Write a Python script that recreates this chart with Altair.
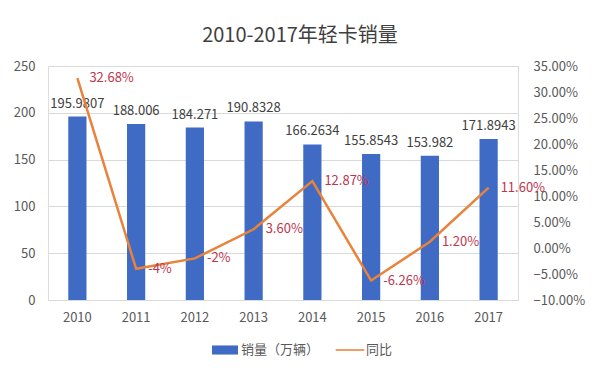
import altair as alt
import pandas as pd

years = ["2010", "2011", "2012", "2013", "2014", "2015", "2016", "2017"]
sales = [195.9807, 188.006, 184.271, 190.8328, 166.2634, 155.8543, 153.982, 171.8943]
sales_labels = ["195.9807", "188.006", "184.271", "190.8328", "166.2634", "155.8543", "153.982", "171.8943"]
yoy = [0.3268, -0.04, -0.02, 0.036, 0.1287, -0.0626, 0.012, 0.116]
yoy_labels = ["32.68%", "-4%", "-2%", "3.60%", "12.87%", "-6.26%", "1.20%", "11.60%"]
series = ["销量（万辆）", "同比"]

FONT = "Noto Sans CJK SC"
BLUE = "#3F6BC5"
ORANGE = "#E9823A"
RED = "#C0354E"

df = pd.DataFrame({
    "year": years,
    "sales": sales,
    "sales_label": sales_labels,
    "yoy": yoy,
    "yoy_label": yoy_labels,
})
legend_df = pd.DataFrame({"series": series})

x = alt.X("year:N", sort=years, title=None,
          scale=alt.Scale(paddingInner=0.69, paddingOuter=0.345),
          axis=alt.Axis(labelAngle=0, domain=False, ticks=False, labelPadding=11,
                        labelFontSize=13, labelColor="#595959", labelFont=FONT))

left_scale = alt.Scale(domain=[0, 250], nice=False, zero=True)
right_scale = alt.Scale(domain=[-0.10, 0.35], nice=False, zero=False)

bars = alt.Chart(df).mark_bar(color=BLUE).encode(
    x=x,
    y=alt.Y("sales:Q", scale=left_scale, title=None,
            axis=alt.Axis(values=[0, 50, 100, 150, 200, 250], orient="left",
                          domain=False, ticks=False, labelPadding=13,
                          labelFontSize=13, labelColor="#595959", labelFont=FONT,
                          grid=True, gridColor="#D9D9D9", gridWidth=1)),
)

bar_text = alt.Chart(df).mark_text(
    baseline="bottom", dy=-6, fontSize=13, color="#404040", font=FONT
).encode(
    x=alt.X("year:N", sort=years),
    y=alt.Y("sales:Q", scale=left_scale, axis=None),
    text="sales_label:N",
)

line = alt.Chart(df).mark_line(color=ORANGE, strokeWidth=2.5).encode(
    x=alt.X("year:N", sort=years),
    y=alt.Y("yoy:Q", scale=right_scale, title=None,
            axis=alt.Axis(values=[-0.10, -0.05, 0, 0.05, 0.10, 0.15, 0.20, 0.25, 0.30, 0.35],
                          format=".2%", orient="right", domain=False, ticks=False,
                          labelPadding=15, labelFontSize=13, labelColor="#595959",
                          labelFont=FONT, grid=False)),
)

pct_text = alt.Chart(df).mark_text(
    align="left", baseline="middle", dx=12, fontSize=13, color=RED, font=FONT
).encode(
    x=alt.X("year:N", sort=years),
    y=alt.Y("yoy:Q", scale=right_scale, axis=None),
    text="yoy_label:N",
)

legend_layer = alt.Chart(legend_df).mark_point(filled=True, opacity=1).encode(
    color=alt.Color("series:N", title=None,
                    scale=alt.Scale(domain=series, range=[BLUE, ORANGE]),
                    legend=alt.Legend(orient="none", legendX=164, legendY=271,
                                      direction="horizontal", symbolSize=676,
                                      labelFontSize=13, labelColor="#595959",
                                      labelFont=FONT, labelOffset=3,
                                      columnPadding=15, symbolStrokeWidth=0)),
    shape=alt.Shape("series:N", title=None,
                    scale=alt.Scale(domain=series,
                                    range=["M-1,-0.35H1V0.35H-1Z",
                                           "M-1.1,-0.06H1.1V0.06H-1.1Z"])),
).transform_filter("false")

chart = alt.layer(bars, bar_text, line, pct_text, legend_layer).resolve_scale(
    y="independent"
).properties(
    width=470,
    height=234,
    padding={"left": 40, "top": 58, "right": 74, "bottom": 67},
    autosize=alt.AutoSizeParams(type="none"),
    title=alt.TitleParams("2010-2017年轻卡销量", fontSize=20, font=FONT,
                          color="#404040", fontWeight="normal", anchor="middle",
                          dx=17, baseline="bottom", offset=-6),
).configure_view(stroke=None).configure(background="white")

chart.save("out.html", embed_options={"renderer": "svg", "actions": False})
